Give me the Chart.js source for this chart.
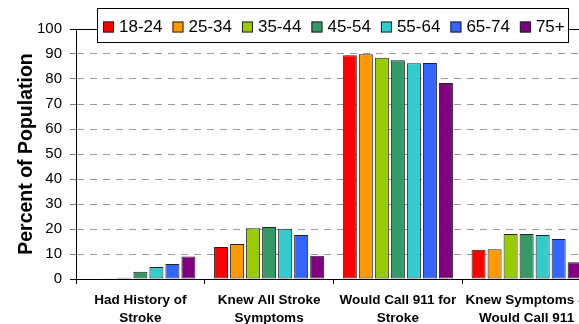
<!DOCTYPE html>
<html>
<head>
<meta charset="utf-8">
<script src="https://cdn.jsdelivr.net/npm/chart.js@4/dist/chart.umd.min.js"></script>
<style>
  html, body { margin: 0; padding: 0; background: #fff; overflow: hidden; }
  #wrap { width: 600px; height: 324px; }
</style>
</head>
<body>
<div id="wrap"><canvas id="c" width="600" height="324"></canvas></div>
<script>
// Survey questions (x categories), wrapped onto two lines
const categories = [
  ['Had History of', 'Stroke'],
  ['Knew All Stroke', 'Symptoms'],
  ['Would Call 911 for', 'Stroke'],
  ['Knew Symptoms &', 'Would Call 911']
];

// Age groups (one series each)
const ageGroups = ['18-24', '25-34', '35-44', '45-54', '55-64', '65-74', '75+'];

// Percent of population, per age group, in category order
const age18to24 = [0, 12.8, 89.5, 11.7];
const age25to34 = [0.3, 14.0, 89.9, 11.9];
const age35to44 = [0.5, 20.3, 88.5, 18.0];
const age45to54 = [2.9, 20.8, 87.5, 18.0];
const age55to64 = [4.8, 20.1, 86.3, 17.6];
const age65to74 = [6.0, 17.6, 86.4, 16.0];
const age75plus = [9.0, 9.3, 78.4, 6.7];

const seriesValues = [age18to24, age25to34, age35to44, age45to54, age55to64, age65to74, age75plus];
const seriesColors = ['#FF0000', '#FF9900', '#99CC00', '#339966', '#33CCCC', '#3366FF', '#800080'];

// Y axis tick values
const yTicks = [0, 10, 20, 30, 40, 50, 60, 70, 80, 90, 100];

const FONT = "'Liberation Sans', Arial, Helvetica, sans-serif";

// Solid top line at 100 and a boxed legend drawn over the plot
const framePlugin = {
  id: 'frame',
  beforeDatasetsDraw(chart) {
    const { ctx, chartArea, scales } = chart;
    const y = Math.round(scales.y.getPixelForValue(100)) + 0.5;
    ctx.save();
    ctx.strokeStyle = '#000';
    ctx.lineWidth = 1;
    ctx.beginPath();
    ctx.moveTo(chartArea.left - 6, y);
    ctx.lineTo(chartArea.right, y);
    ctx.stroke();
    ctx.restore();
  },
  afterDraw(chart) {
    const { ctx } = chart;
    const bx = 97, by = 8, bw = 472, bh = 35;
    ctx.save();
    ctx.fillStyle = '#fff';
    ctx.fillRect(bx, by, bw, bh);
    ctx.strokeStyle = '#000';
    ctx.lineWidth = 1;
    ctx.strokeRect(bx + 0.5, by + 0.5, bw - 1, bh - 1);
    ctx.font = '17px ' + FONT;
    ctx.textBaseline = 'middle';
    ctx.textAlign = 'left';
    let x = 103;
    const cy = 27;
    chart.data.datasets.forEach(ds => {
      ctx.fillStyle = ds.backgroundColor;
      ctx.fillRect(x, cy - 5.5, 11, 11);
      ctx.strokeStyle = '#222';
      ctx.strokeRect(x + 0.5, cy - 5, 10, 10);
      ctx.fillStyle = '#000';
      ctx.fillText(ds.label, x + 16, cy + 0.5);
      x += 16 + ctx.measureText(ds.label).width + 10;
    });
    ctx.restore();
  }
};

new Chart(document.getElementById('c'), {
  type: 'bar',
  data: {
    labels: categories,
    datasets: ageGroups.map((g, i) => ({
      label: g,
      data: seriesValues[i],
      backgroundColor: seriesColors[i],
      borderColor: '#222',
      borderWidth: 1,
      borderSkipped: false,
      categoryPercentage: 0.871,
      barPercentage: 0.875
    }))
  },
  options: {
    responsive: false,
    animation: false,
    devicePixelRatio: 1,
    layout: { padding: { top: 29, right: 9, bottom: 0, left: 0 } },
    plugins: {
      legend: { display: false },
      tooltip: { enabled: false }
    },
    scales: {
      x: {
        offset: true,
        grid: {
          display: true,
          offset: true,
          drawOnChartArea: false,
          drawTicks: true,
          tickLength: 5,
          color: '#000'
        },
        border: { display: true, color: '#000', width: 1 },
        ticks: {
          color: '#000',
          maxRotation: 0,
          autoSkip: false,
          padding: 7,
          font: { family: FONT, size: 13.5, weight: 'bold', lineHeight: 1.33 }
        },
        afterFit(s) { s.height = 45; }
      },
      y: {
        min: 0,
        max: 100,
        afterBuildTicks(s) { s.ticks = yTicks.map(v => ({ value: v })); },
        grid: {
          color: '#9a9a9a',
          lineWidth: 1,
          tickLength: 6,
          tickColor: ctx => ctx.tick && ctx.tick.value === 0 ? '#000' : '#777'
        },
        border: { display: true, color: '#000', width: 1, dash: [7, 6] },
        ticks: {
          color: '#000',
          padding: 8,
          font: { family: FONT, size: 15 }
        },
        title: {
          display: true,
          text: 'Percent of Population',
          color: '#000',
          font: { family: FONT, size: 19.5, weight: 'bold', lineHeight: 1.2 },
          padding: { top: 15, bottom: 0 }
        },
        afterFit(s) { s.width = 76; }
      }
    }
  },
  plugins: [framePlugin]
});
</script>
</body>
</html>
